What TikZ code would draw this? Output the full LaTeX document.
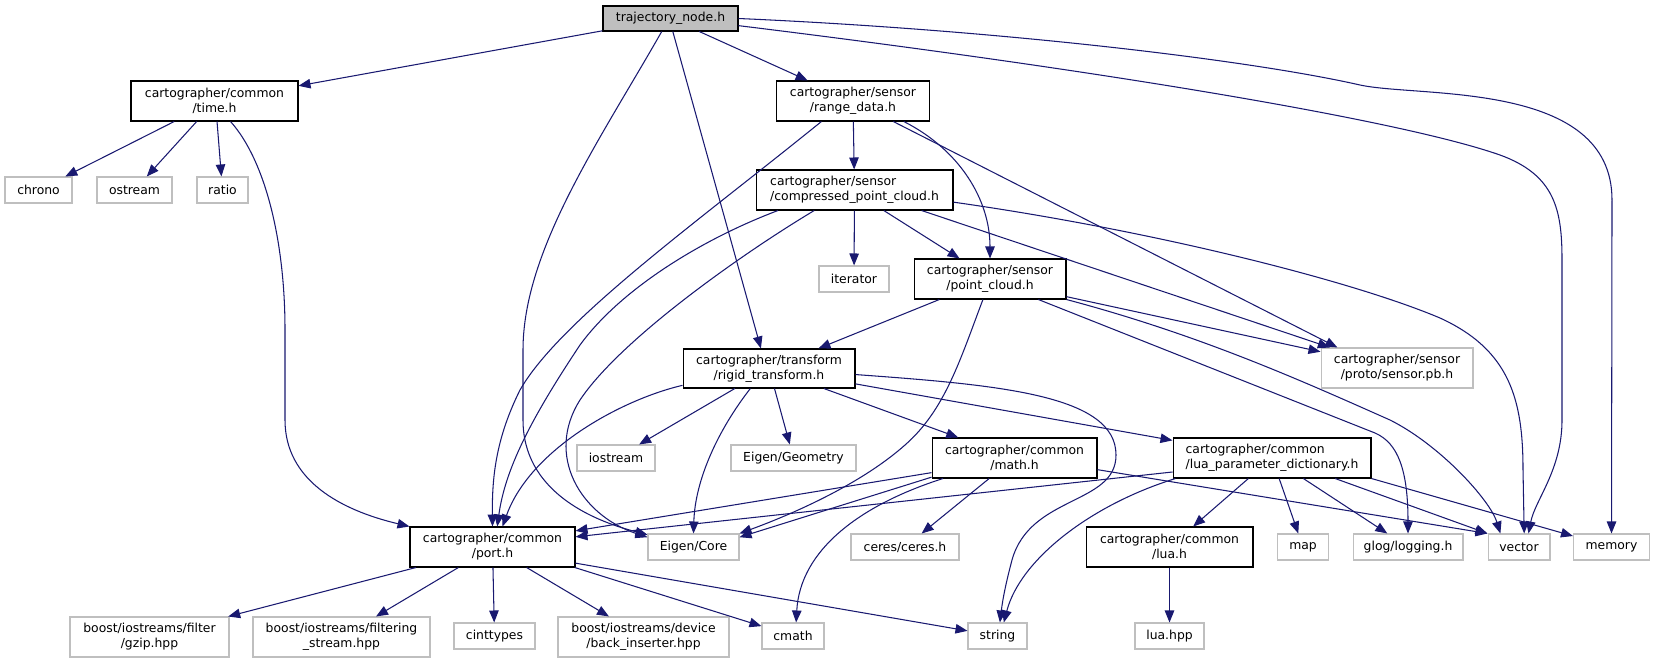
\documentclass[tikz,border=0pt]{standalone}
\usepackage{fontspec}
\setmainfont{DejaVu Sans}
\usetikzlibrary{arrows.meta}
\definecolor{edgeblue}{HTML}{191970}
\definecolor{sysgray}{HTML}{BFBFBF}
\tikzset{
  hdr/.style={draw=black, fill=white, line width=0.6pt, inner sep=0pt, align=center, font=\fontsize{7.05}{8.5}\selectfont},
  sys/.style={hdr, draw=sysgray},
  dep/.style={draw=edgeblue, line width=0.6pt, -{Triangle[length=2.4mm,width=1.9mm]}}
}
\begin{document}
\begin{tikzpicture}[x=0.02cm, y=-0.02cm]
  \useasboundingbox (0,0) rectangle (1655,663);
  \node[hdr, fill=sysgray, minimum width=2.7cm, minimum height=0.5cm] (traj) at (670.5,18.5) {trajectory\_node.h};
  \node[hdr, minimum width=3.34cm, minimum height=0.8cm] (time) at (214.5,101) {cartographer/common\\/time.h};
  \node[hdr, minimum width=3.06cm, minimum height=0.8cm] (range) at (853,101) {cartographer/sensor\\/range\_data.h};
  \node[sys, minimum width=1.34cm, minimum height=0.52cm] (chrono) at (38.5,190) {chrono};
  \node[sys, minimum width=1.5cm, minimum height=0.52cm] (ostream) at (134.5,190) {ostream};
  \node[sys, minimum width=1.02cm, minimum height=0.52cm] (ratio) at (222.5,190) {ratio};
  \node[hdr, align=left, minimum width=3.94cm, minimum height=0.8cm] (cpc) at (854.5,190) {cartographer/sensor\\/compressed\_point\_cloud.h};
  \node[sys, minimum width=1.4cm, minimum height=0.52cm] (iterator) at (854,279) {iterator};
  \node[hdr, minimum width=3.04cm, minimum height=0.8cm] (pc) at (990,279) {cartographer/sensor\\/point\_cloud.h};
  \node[hdr, minimum width=3.44cm, minimum height=0.78cm] (rigid) at (769,368.5) {cartographer/transform\\/rigid\_transform.h};
  \node[sys, minimum width=3.04cm, minimum height=0.8cm] (pb) at (1397,368) {cartographer/sensor\\/proto/sensor.pb.h};
  \node[sys, minimum width=1.56cm, minimum height=0.52cm] (iostream) at (616,458) {iostream};
  \node[sys, minimum width=2.5cm, minimum height=0.52cm] (geometry) at (793.5,458) {Eigen/Geometry};
  \node[hdr, minimum width=3.3cm, minimum height=0.8cm] (math) at (1014.5,458) {cartographer/common\\/math.h};
  \node[hdr, align=left, minimum width=3.96cm, minimum height=0.8cm] (lpd) at (1272,458) {cartographer/common\\/lua\_parameter\_dictionary.h};
  \node[hdr, minimum width=3.3cm, minimum height=0.8cm] (port) at (492.5,547) {cartographer/common\\/port.h};
  \node[sys, minimum width=1.82cm, minimum height=0.52cm] (core) at (693.5,547) {Eigen/Core};
  \node[sys, minimum width=2.16cm, minimum height=0.52cm] (ceres) at (905,547) {ceres/ceres.h};
  \node[hdr, minimum width=3.34cm, minimum height=0.8cm] (lua) at (1169.5,547) {cartographer/common\\/lua.h};
  \node[sys, minimum width=1.02cm, minimum height=0.52cm] (map) at (1303,547) {map};
  \node[sys, minimum width=2.2cm, minimum height=0.52cm] (glog) at (1408,547) {glog/logging.h};
  \node[sys, minimum width=1.24cm, minimum height=0.52cm] (vector) at (1519,547) {vector};
  \node[sys, minimum width=1.52cm, minimum height=0.52cm] (memory) at (1611.5,547) {memory};
  \node[sys, minimum width=3.18cm, minimum height=0.8cm] (gzip) at (149.5,637) {boost/iostreams/filter\\/gzip.hpp};
  \node[sys, minimum width=3.54cm, minimum height=0.8cm] (fstream) at (341.5,637) {boost/iostreams/filtering\\\_stream.hpp};
  \node[sys, minimum width=1.62cm, minimum height=0.52cm] (cinttypes) at (494.5,636) {cinttypes};
  \node[sys, minimum width=3.42cm, minimum height=0.8cm] (backins) at (643.5,637) {boost/iostreams/device\\/back\_inserter.hpp};
  \node[sys, minimum width=1.24cm, minimum height=0.52cm] (cmath) at (793,636) {cmath};
  \node[sys, minimum width=1.18cm, minimum height=0.52cm] (string) at (997.5,636) {string};
  \node[sys, minimum width=1.38cm, minimum height=0.52cm] (luahpp) at (1169.5,636) {lua.hpp};
  \draw[dep] (traj) -- (time);
  \draw[dep] (traj) -- (range);
  \draw[dep] (traj.-80) -- (rigid.112);
  \draw[dep] (traj.-124) .. controls (600,140) and (523,250) .. (523,350) -- (523,420) .. controls (523,490) and (590,520) .. (core.165);
  \draw[dep] (traj.-6) .. controls (1100,70) and (1400,120) .. (1500,155) .. controls (1555,175) and (1562,210) .. (1562,260) -- (1562,420) .. controls (1562,470) and (1535,500) .. (vector.55);
  \draw[dep] (traj.east) .. controls (1000,30) and (1250,60) .. (1360,85) .. controls (1420,98) and (1612,80) .. (1612,200) -- (memory.north);
  \draw[dep] (time.-153) -- (chrono);
  \draw[dep] (time.-131) -- (ostream);
  \draw[dep] (time.-83) -- (ratio);
  \draw[dep] (time.-52) .. controls (265,160) and (285,240) .. (285,330) -- (285,420) .. controls (285,480) and (340,510) .. (port.north west);
  \draw[dep] (range) -- (cpc);
  \draw[dep] (range.-147) .. controls (700,220) and (560,320) .. (520,390) .. controls (495,440) and (492,480) .. (port.north);
  \draw[dep] (range.-22) .. controls (960,150) and (990,200) .. (pc.north);
  \draw[dep] (range.-27) -- (pb.161);
  \draw[dep] (cpc) -- (iterator);
  \draw[dep] (cpc.-35) -- (pc.146);
  \draw[dep] (cpc.-165) .. controls (700,240) and (620,290) .. (580,345) .. controls (530,420) and (505,470) .. (port.77);
  \draw[dep] (cpc.-153) .. controls (740,255) and (620,340) .. (580,400) .. controls (545,455) and (580,515) .. (core.168);
  \draw[dep] (cpc.-17) -- (pb.163);
  \draw[dep] (cpc.-7) .. controls (1150,230) and (1350,280) .. (1440,318) .. controls (1510,350) and (1523,400) .. (1523,470) -- (vector.69);
  \draw[dep] (pc) -- (rigid);
  \draw[dep] (pc.-109) .. controls (960,360) and (945,410) .. (905,445) .. controls (860,485) and (790,515) .. (core.north east);
  \draw[dep] (pc.-13) -- (pb.168);
  \draw[dep] (pc.south east) .. controls (1200,335) and (1300,380) .. (1390,420) .. controls (1440,445) and (1490,500) .. (vector.144);
  \draw[dep] (pc.-23) -- (1375,433) .. controls (1398,443) and (1408,470) .. (glog.north);
  \draw[dep] (rigid.-169) .. controls (620,400) and (530,450) .. (port.64);
  \draw[dep] (rigid) -- (iostream);
  \draw[dep] (rigid.-133) .. controls (718,430) and (695,480) .. (core.north);
  \draw[dep] (rigid) -- (geometry);
  \draw[dep] (rigid) -- (math);
  \draw[dep] (rigid) -- (lpd);
  \draw[dep] (rigid.-4) .. controls (1000,385) and (1116,395) .. (1116,455) .. controls (1116,505) and (1030,495) .. (1012,560) .. controls (1004,590) and (1002,605) .. (string.80);
  \draw[dep] (math.-170) -- (port.11);
  \draw[dep] (math.-167) -- (core.12);
  \draw[dep] (math.-164) .. controls (860,505) and (800,550) .. (cmath.77);
  \draw[dep] (math.-141) -- (ceres);
  \draw[dep] (math.-8) -- (vector.north west);
  \draw[dep] (lpd.-172) -- (port.7);
  \draw[dep] (lpd.-168) .. controls (1090,505) and (1020,560) .. (string.65);
  \draw[dep] (lpd) -- (lua);
  \draw[dep] (lpd) -- (map);
  \draw[dep] (lpd) -- (glog);
  \draw[dep] (lpd.-18) -- (vector.north west);
  \draw[dep] (lpd.south east) -- (memory);
  \draw[dep] (port.-165) -- (gzip);
  \draw[dep] (port.-149) -- (fstream);
  \draw[dep] (port) -- (cinttypes);
  \draw[dep] (port.-31) -- (backins);
  \draw[dep] (port.-14) -- (cmath);
  \draw[dep] (port.-11) -- (string);
  \draw[dep] (lua) -- (luahpp);
\end{tikzpicture}
\end{document}
